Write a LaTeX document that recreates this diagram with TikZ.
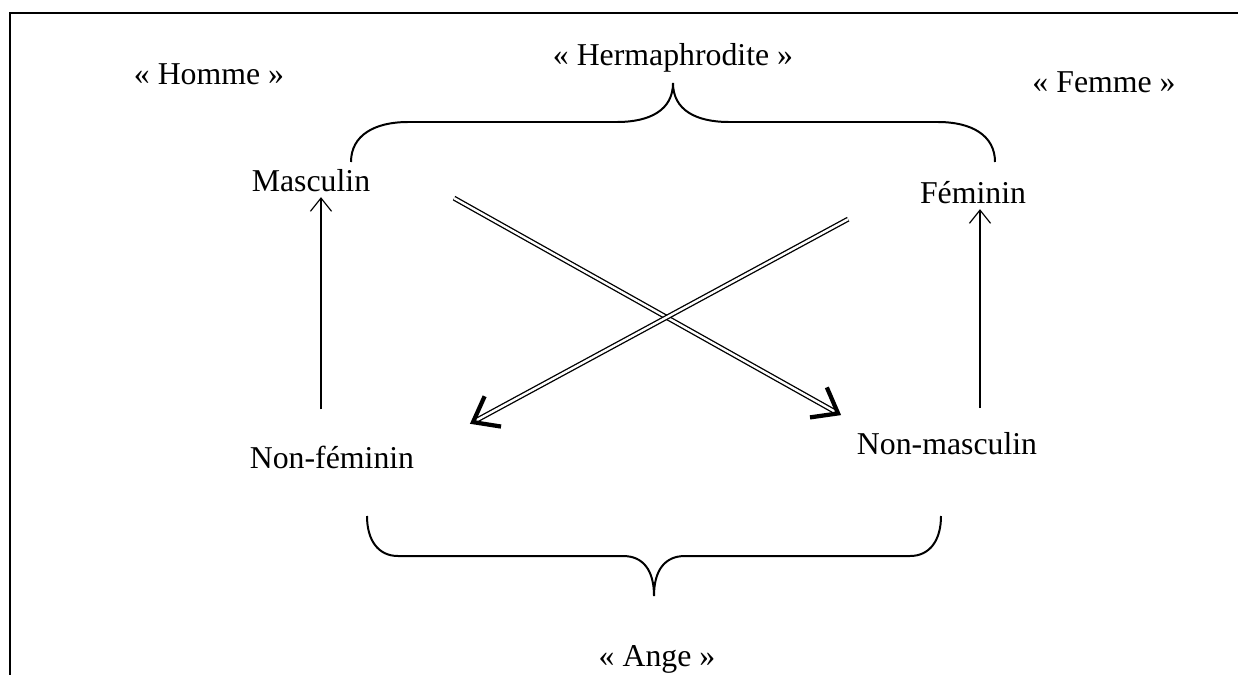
\documentclass[tikz,border=0pt]{standalone}
\usepackage{fontspec}
\setmainfont{Liberation Serif}
\usetikzlibrary{arrows.meta}
\begin{document}
\begin{tikzpicture}[x=0.3774pt, y=-0.3774pt, font=\fontsize{12}{14}\selectfont]
    \tikzstyle{terme} = [inner sep=2pt, anchor=base]
    \tikzstyle{fleche} = [line width=0.45pt, -{Straight Barb[length=5pt, width=8pt, line width=0.45pt]}]
    \tikzstyle{dfleche} = [double, double distance=0.9pt, line width=0.5pt, -{Straight Barb[length=8.5pt, width=13pt, line width=1.6pt]}]
    \tikzstyle{accolade} = [line width=0.75pt]

    \useasboundingbox (0,0) rectangle (1238,675);
    \draw[line width=1pt] (10,675) -- (10,13) -- (1238,13);

    \node[terme] (homme) at (209,84) {« Homme »};
    \node[terme] (herm) at (673,66) {« Hermaphrodite »};
    \node[terme] (femme) at (1104,92) {« Femme »};
    \node[terme] (masc) at (311,191) {Masculin};
    \node[terme] (fem) at (973,203) {Féminin};
    \node[terme] (nonfem) at (332,468) {Non-féminin};
    \node[terme] (nonmasc) at (947,454) {Non-masculin};
    \node[terme] (ange) at (657,666) {« Ange »};

    \draw[fleche, shorten <=11.5pt] ([shift={(10,0)}]masc.south |- nonfem.north) -- ([shift={(10,0)}]masc.south);
    \draw[fleche, shorten <=6.8pt] ([shift={(7,0)}]fem.south |- nonmasc.north) -- ([shift={(7,0)}]fem.south);
    \draw[dfleche] ([shift={(78,18)}]masc.east) -- ([shift={(-10,-11)}]nonmasc.north west);
    \draw[dfleche] ([shift={(-66,27)}]fem.west) -- ([shift={(50,-16)}]nonfem.north east);

    \draw[accolade] (351,162) .. controls (351,135) and (375,122) .. (408,122) -- (617,122)
        .. controls (650,122) and (673,110) .. (673,83) .. controls (673,110) and (696,122) .. (729,122)
        -- (938,122) .. controls (971,122) and (995,135) .. (995,162);
    \draw[accolade] (367,516) .. controls (367,540) and (378,556) .. (398,556) -- (623,556)
        .. controls (643,556) and (654,570) .. (654,596) .. controls (654,570) and (665,556) .. (685,556)
        -- (910,556) .. controls (930,556) and (941,540) .. (941,516);
\end{tikzpicture}
\end{document}
